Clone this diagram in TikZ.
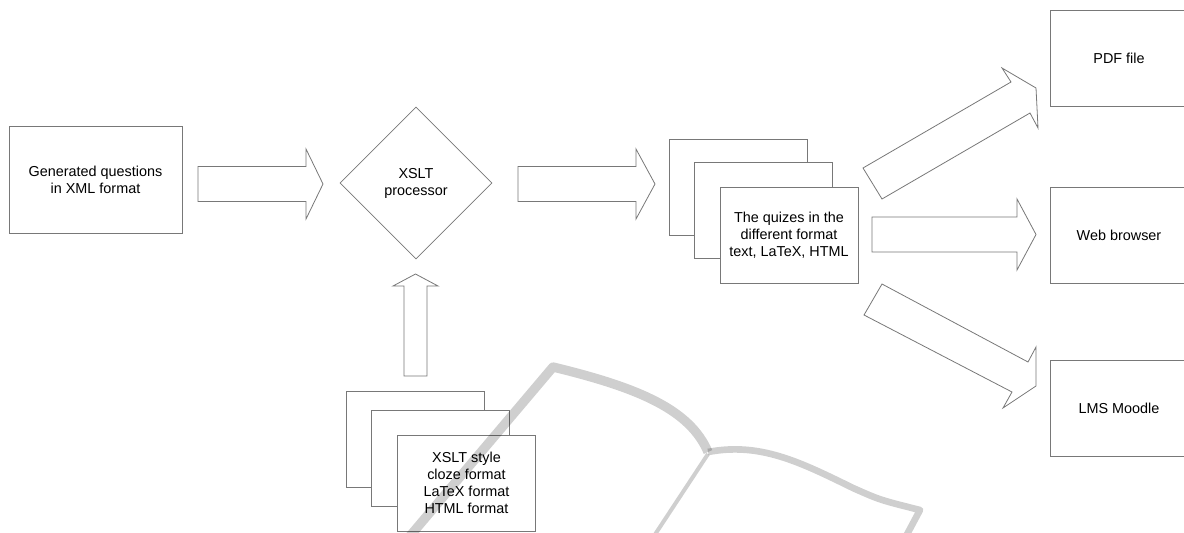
\documentclass[tikz,border=0pt]{standalone}
\usepackage{fontspec}
\setmainfont{Liberation Sans}
\usepackage{xcolor}
\usepackage{tikz}
\usetikzlibrary{shapes.geometric}

\definecolor{linegray}{RGB}{120,120,120}

\tikzset{
    box/.style={draw=linegray, fill=white, line width=0.6pt, rectangle, align=center,
        inner sep=0pt, minimum width=103.5pt, minimum height=72pt,
        font=\fontsize{10.8}{12.8}\selectfont},
    proc/.style={box, diamond, aspect=1, minimum width=114pt, minimum height=114pt},
    blockarrow/.style={draw=linegray, fill=white, line width=0.6pt, line join=miter},
    bookmark/.style={draw=black, draw opacity=0.19, line join=round}
}

\begin{document}
\begin{tikzpicture}[x=0.75pt, y=-0.75pt]
        \clip (0,0) rectangle (1184,532);
        % input and processor
        \node[box, minimum width=129.75pt, minimum height=80.25pt] (gen) at (95.5,179.5) {Generated questions\\in XML format};
        \node[proc] (xslt) at (416,183) {XSLT\\processor};
        % quizzes (stack)
        \node[box] (quiz3) at (738,187) {};
        \node[box] (quiz2) at ([shift={(25.5,23)}]quiz3) {};
        \node[box] (quiz1) at ([shift={(25.5,25)}]quiz2) {The quizes in the\\different format\\text, LaTeX, HTML};
        % styles (stack)
        \node[box] (style3) at (415.5,439) {};
        \node[box] (style2) at ([shift={(25,19.5)}]style3) {};
        \node[box] (style1) at ([shift={(26,24.5)}]style2) {XSLT style\\cloze format\\LaTeX format\\HTML format};
        % outputs
        \node[box] (pdf) at (1119,58.5) {PDF file};
        \node[box] (web) at (1119,235) {Web browser};
        \node[box] (lms) at (1119,408.5) {LMS Moodle};
        % block arrows
        \draw[blockarrow] (198,166.5) -- (306,166.5) -- (306,149) -- (323,184) -- (306,219) -- (306,201.5) -- (198,201.5) -- cycle;
        \draw[blockarrow] (518,166.5) -- (636,166.5) -- (636,149) -- (655,184) -- (636,219) -- (636,201.5) -- (518,201.5) -- cycle;
        \draw[blockarrow] (404,376) -- (404,286) -- (393,286) -- (415.5,274) -- (438,286) -- (427,286) -- (427,376) -- cycle;
        \draw[blockarrow] (872,217) -- (1017,217) -- (1017,199) -- (1036,234.5) -- (1017,270) -- (1017,252) -- (872,252) -- cycle;
        \draw[blockarrow] (863,168) -- (1011,82) -- (1002,68) -- (1036,88) -- (1038,128) -- (1030,113) -- (882,199) -- cycle;
        \draw[blockarrow] (882,284) -- (1028,362) -- (1036,347) -- (1036,386) -- (1003,408) -- (1012,392) -- (864,315) -- cycle;
        % watermark
        \draw[bookmark, line width=7pt] (410,536) -- (553,367) .. controls (640,388) and (690,410) .. (708,452);
        \draw[bookmark, line width=5pt] (708,452) .. controls (760,442) and (800,462) .. (853,488) .. controls (880,500) .. (920,510) -- (904,540);
        \draw[bookmark, line width=3pt] (708,454) -- (654,536);
    \end{tikzpicture}
\end{document}
